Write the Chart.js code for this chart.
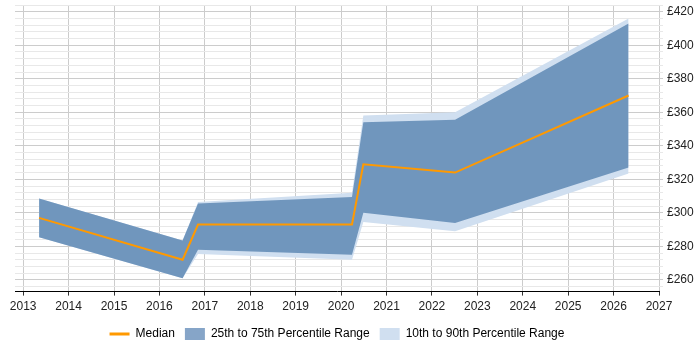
<!DOCTYPE html>
<html><head><meta charset="utf-8">
<script src="https://cdn.jsdelivr.net/npm/chart.js@4/dist/chart.umd.min.js"></script>
<style>html,body{margin:0;padding:0;background:#fff}#wrap{width:700px;height:350px}</style>
</head><body><div id="wrap"><canvas id="c" width="700" height="350"></canvas></div>
<script>
const years = [2013.35, 2016.51, 2016.85, 2020.24, 2020.49, 2022.51, 2026.33];
const median = [297, 272, 293, 293, 329, 324, 370];
const p25 = [285.5, 261, 278, 275, 300, 294, 327];
const p75 = [308.5, 283.5, 305.5, 309.5, 354, 355.5, 413];
const p10 = [285.5, 261, 275.5, 272, 294.5, 289, 323.5];
const p90 = [308.5, 283.5, 306.5, 312, 358, 360, 416];
const xTicks = [2013,2014,2015,2016,2017,2018,2019,2020,2021,2022,2023,2024,2025,2026,2027];
const yTicks = [];
for (let v = 256; v <= 424; v += 4) yTicks.push(v);

const pts = arr => arr.map((v, i) => ({x: years[i], y: v}));
const DARK = '#7096bd', LIGHT = '#d0dff0', ORANGE = '#ff9900';

new Chart(document.getElementById('c'), {
  type: 'line',
  data: {
    datasets: [
      {label: 'Median', data: pts(median), borderColor: ORANGE, borderWidth: 2, pointRadius: 0, fill: false, order: 0, tension: 0},
      {label: '25th to 75th Percentile Range', data: pts(p75), borderWidth: 0, borderColor: DARK, backgroundColor: DARK, pointRadius: 0, fill: '+1', order: 1},
      {label: 'p25', data: pts(p25), borderWidth: 0, borderColor: DARK, pointRadius: 0, fill: false, order: 1},
      {label: '10th to 90th Percentile Range', data: pts(p90), borderWidth: 0, borderColor: LIGHT, backgroundColor: LIGHT, pointRadius: 0, fill: '+1', order: 2},
      {label: 'p10', data: pts(p10), borderWidth: 0, borderColor: LIGHT, pointRadius: 0, fill: false, order: 2}
    ]
  },
  options: {
    responsive: false,
    animation: false,
    layout: {padding: {left: 15, top: 5, right: 0, bottom: 0}},
    plugins: {
      tooltip: {enabled: false},
      legend: {
        position: 'bottom',
        fullSize: false,
        labels: {
          usePointStyle: true,
          pointStyleWidth: 20,
          boxHeight: 12,
          padding: 10,
          color: '#333',
          font: {family: 'Liberation Sans, Arial, sans-serif', size: 12},
          generateLabels: () => [
            {text: 'Median', pointStyle: 'line', strokeStyle: ORANGE, fillStyle: ORANGE, lineWidth: 3, datasetIndex: 0},
            {text: '25th to 75th Percentile Range', pointStyle: 'rect', fillStyle: '#86a5c8', strokeStyle: '#86a5c8', lineWidth: 0, datasetIndex: 1},
            {text: '10th to 90th Percentile Range', pointStyle: 'rect', fillStyle: '#d0dff0', strokeStyle: '#d0dff0', lineWidth: 0, datasetIndex: 3}
          ]
        }
      }
    },
    scales: {
      x: {
        type: 'linear',
        min: 2012.82,
        max: 2027,
        afterBuildTicks: a => { a.ticks = xTicks.map(v => ({value: v})); },
        ticks: {color: '#222', font: {family: 'Liberation Sans, Arial, sans-serif', size: 12}, padding: 4, maxRotation: 0, callback: v => String(v)},
        grid: {color: '#cccccc', tickLength: 4, tickColor: '#333'},
        border: {color: '#000', width: 1}
      },
      y: {
        position: 'right',
        min: 253,
        max: 424,
        afterBuildTicks: a => { a.ticks = yTicks.map(v => ({value: v})); },
        afterFit: a => { a.width = 41; a.paddingTop = 0; a.paddingBottom = 0; },
        ticks: {color: '#222', font: {family: 'Liberation Sans, Arial, sans-serif', size: 12}, padding: 4, autoSkip: false,
          callback: v => (v % 20 === 0 ? '£' + v : '')},
        grid: {color: c => (c.tick && c.tick.value % 20 === 0 ? '#cccccc' : '#e8e8e8'), tickLength: 4, drawTicks: true},
        border: {display: false}
      }
    }
  }
});
</script></body></html>
